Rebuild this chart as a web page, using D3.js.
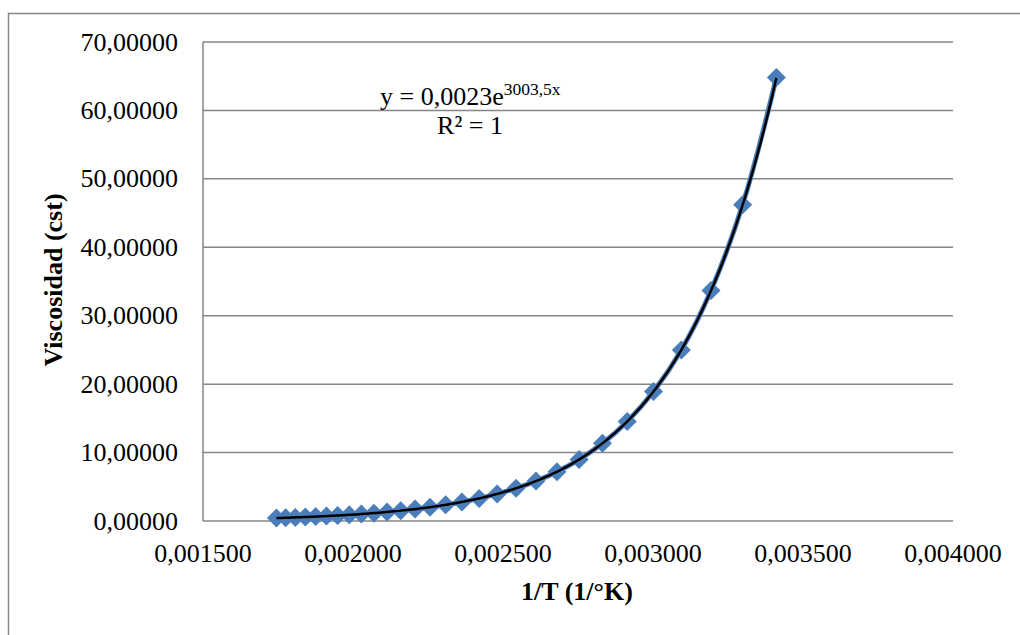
<!DOCTYPE html>
<html>
<head>
<meta charset="utf-8">
<script src="https://cdn.jsdelivr.net/npm/d3@7"></script>
<style>
  html, body { margin: 0; padding: 0; background: #fff; }
  svg { display: block; }
  text { font-family: "Liberation Serif", "Times New Roman", serif; fill: #000; }
</style>
</head>
<body>
<svg id="chart" width="1020" height="635"></svg>
<script>
// 1/T (1/K) for each temperature reading
const inverseT = [
  0.0017448, 0.0017757, 0.0018078, 0.0018411, 0.0018756, 0.0019115,
  0.0019487, 0.0019875, 0.0020278, 0.0020698, 0.0021135, 0.0021591,
  0.0022068, 0.0022566, 0.0023087, 0.0023632, 0.0024204, 0.0024805,
  0.0025436, 0.0026100, 0.0026799, 0.0027537, 0.0028317, 0.0029142,
  0.0030017, 0.0030945, 0.0031934, 0.0032987, 0.0034112
];
// Kinematic viscosity (cSt)
const viscosity = [
  0.43, 0.48, 0.52, 0.58, 0.64, 0.72,
  0.80, 0.90, 1.02, 1.15, 1.31, 1.51,
  1.74, 2.02, 2.36, 2.78, 3.30, 3.96,
  4.78, 5.83, 7.20, 8.98, 11.35, 14.55,
  18.92, 25.00, 33.70, 46.20, 64.80
];
const xTicks = [0.0015, 0.002, 0.0025, 0.003, 0.0035, 0.004];
const yTicks = [0, 10, 20, 30, 40, 50, 60, 70];

// Exponential trendline: y = 0,0023 e^(3003,5x)
const fitA = 0.0023, fitB = 3003.5;

const svg = d3.select("#chart");
const plot = { left: 203, right: 953, top: 42, bottom: 521 };

const x = d3.scaleLinear().domain([0.0015, 0.004]).range([plot.left, plot.right]);
const y = d3.scaleLinear().domain([0, 70]).range([plot.bottom, plot.top]);

const fmtX = v => d3.format(".6f")(v).replace(".", ",");
const fmtY = v => d3.format(".5f")(v).replace(".", ",");

// Chart frame
svg.append("path")
  .attr("d", "M8.5,636V13.5H1021")
  .attr("fill", "none").attr("stroke", "#868686").attr("stroke-width", 1.5);

// Horizontal gridlines
svg.append("g").selectAll("line").data(yTicks).join("line")
  .attr("x1", plot.left).attr("x2", plot.right)
  .attr("y1", d => y(d)).attr("y2", d => y(d))
  .attr("stroke", "#868686").attr("stroke-width", 1.5);

// Vertical axis line
svg.append("line")
  .attr("x1", plot.left).attr("x2", plot.left)
  .attr("y1", plot.top).attr("y2", plot.bottom)
  .attr("stroke", "#868686").attr("stroke-width", 1.5);

// Y tick labels
svg.append("g").selectAll("text").data(yTicks).join("text")
  .attr("x", 178).attr("y", d => y(d) + 8.5)
  .attr("text-anchor", "end").attr("font-size", 26)
  .text(fmtY);

// X tick labels
svg.append("g").selectAll("text").data(xTicks).join("text")
  .attr("x", d => x(d)).attr("y", 562)
  .attr("text-anchor", "middle").attr("font-size", 26)
  .text(fmtX);

// Axis titles
svg.append("text")
  .attr("x", 577).attr("y", 600)
  .attr("text-anchor", "middle").attr("font-size", 26).attr("font-weight", "bold")
  .text("1/T (1/°K)");
svg.append("text")
  .attr("transform", "translate(62,280) rotate(-90)")
  .attr("text-anchor", "middle").attr("font-size", 26).attr("font-weight", "bold")
  .text("Viscosidad (cst)");

const pts = inverseT.map((v, i) => [v, viscosity[i]]);

// Series line (smoothed)
svg.append("path")
  .datum(pts)
  .attr("d", d3.line().x(d => x(d[0])).y(d => y(d[1])).curve(d3.curveCatmullRom))
  .attr("fill", "none").attr("stroke", "#4a7ebb").attr("stroke-width", 5);

// Diamond markers
svg.append("g").selectAll("path").data(pts).join("path")
  .attr("transform", d => `translate(${x(d[0])},${y(d[1])})`)
  .attr("d", "M0,-9.5L9.5,0L0,9.5L-9.5,0Z")
  .attr("fill", "#4a7ebb");

// Trendline
const xMin = d3.min(inverseT), xMax = d3.max(inverseT);
const trend = d3.range(0, 201).map(i => {
  const xv = xMin + (xMax - xMin) * i / 200;
  return [xv, fitA * Math.exp(fitB * xv)];
});
svg.append("path")
  .datum(trend)
  .attr("d", d3.line().x(d => x(d[0])).y(d => y(d[1])))
  .attr("fill", "none").attr("stroke", "#000").attr("stroke-width", 2.5);

// Trendline equation
const eq = svg.append("text").attr("x", 380).attr("y", 105).attr("font-size", 26);
eq.append("tspan").text("y = 0,0023e");
eq.append("tspan").attr("font-size", 17.5).attr("dy", -10).text("3003,5x");
svg.append("text")
  .attr("x", 470).attr("y", 134).attr("text-anchor", "middle").attr("font-size", 26)
  .text("R² = 1");
</script>
</body>
</html>
